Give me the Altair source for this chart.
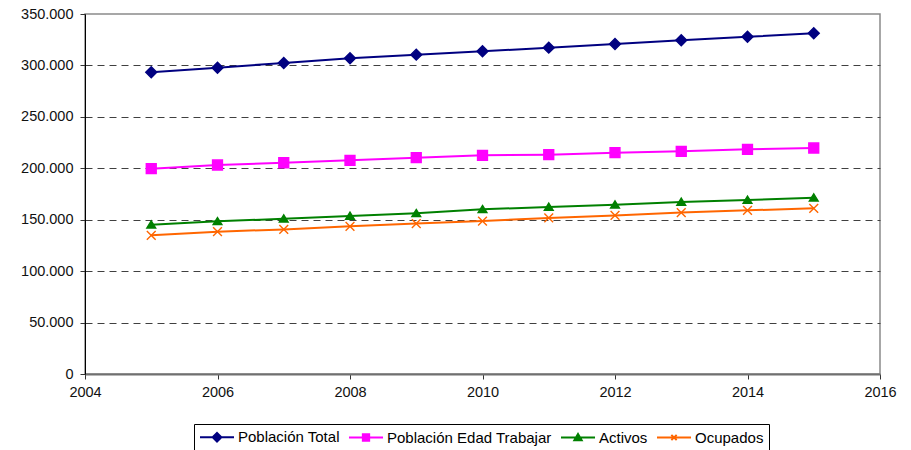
import altair as alt
import pandas as pd

years = [2005, 2006, 2007, 2008, 2009, 2010, 2011, 2012, 2013, 2014, 2015]
poblacion_total = [293300, 297800, 302400, 306900, 310500, 313700, 317300, 320800, 324400, 327900, 331200]
poblacion_edad_trabajar = [199600, 203200, 205400, 207700, 210300, 212600, 213200, 215200, 216500, 218400, 219700]
activos = [145200, 148400, 151000, 153600, 156200, 160100, 162400, 164600, 167200, 169200, 171400]
ocupados = [134800, 138400, 140600, 143600, 146200, 148700, 151700, 154200, 156900, 159100, 161100]

series = ["Población Total", "Población Edad Trabajar", "Activos", "Ocupados"]
colors = ["#000080", "#FF00FF", "#008000", "#FF6600"]
x_ticks = [2004, 2006, 2008, 2010, 2012, 2014, 2016]
y_ticks = [0, 50000, 100000, 150000, 200000, 250000, 300000, 350000]

rows = []
for name, vals in zip(series, [poblacion_total, poblacion_edad_trabajar, activos, ocupados]):
    for yr, v in zip(years, vals):
        rows.append({"anio": yr, "valor": v, "serie": name})
df = pd.DataFrame(rows)

# marker shapes (unit space) for the plot
point_shapes = [
    "M0,-1L1,0L0,1L-1,0Z",
    "M-0.9,-0.9H0.9V0.9H-0.9Z",
    "M0,-0.7L0.8,0.6L-0.8,0.6Z",
    "M-0.8,-0.8L0.8,0.8M-0.8,0.8L0.8,-0.8",
]
# legend symbols: line + marker
legend_shapes = [
    "M-1,0H3.86M1.43,-0.62L2.05,0L1.43,0.62L0.81,0Z",
    "M-1,0H3.86M0.98,-0.45H1.88V0.45H0.98Z",
    "M-1,0H3.86M1.43,-0.5L1.95,0.38L0.91,0.38Z",
    "M-1,0H3.86M1.05,-0.38L1.81,0.38M1.05,0.38L1.81,-0.38",
]

x_enc = alt.X(
    "anio:Q",
    scale=alt.Scale(domain=[2004, 2016], nice=False, zero=False),
    axis=alt.Axis(
        values=x_ticks, format="d", title=None, grid=False, labelFlush=False,
        domainColor="#707070", domainWidth=2, tickColor="#333", tickSize=5,
        labelPadding=6, labelFontSize=14.5, labelColor="#111",
        labelFont="Liberation Sans",
    ),
)
y_enc = alt.Y(
    "valor:Q",
    scale=alt.Scale(domain=[0, 350000], nice=False),
    axis=alt.Axis(
        values=y_ticks, title=None, grid=True,
        gridDash=[7, 5], gridColor="#404040", gridWidth=1,
        gridOpacity={"condition": {"test": "datum.value === 0 || datum.value === 350000", "value": 0}, "value": 1},
        domainColor="#000", domainWidth=1, tickColor="#333", tickSize=5,
        labelPadding=7, labelFontSize=14.5, labelColor="#111",
        labelFont="Liberation Sans",
        labelExpr="replace(format(datum.value, ','), ',', '.')",
    ),
)

lines = alt.Chart(df).mark_line(strokeWidth=2).encode(
    x=x_enc, y=y_enc,
    color=alt.Color("serie:N", scale=alt.Scale(domain=series, range=colors), legend=None),
    detail="serie:N",
)

points = alt.Chart(df).mark_point(filled=True, opacity=1, size=121, strokeWidth=1.4).encode(
    x=x_enc, y=y_enc,
    fill=alt.Fill("serie:N", scale=alt.Scale(domain=series, range=colors), legend=None),
    stroke=alt.Stroke("serie:N", scale=alt.Scale(domain=series, range=colors), legend=None),
    shape=alt.Shape("serie:N", scale=alt.Scale(domain=series, range=point_shapes), legend=None),
)

legend_layer = alt.Chart(df).transform_filter("false").mark_point(filled=True, opacity=1).encode(
    x=x_enc, y=y_enc,
    fill=alt.Fill("serie:N", scale=alt.Scale(domain=series, range=colors), title=None, sort=series),
    stroke=alt.Stroke("serie:N", scale=alt.Scale(domain=series, range=colors), title=None, sort=series),
    shape=alt.Shape("serie:N", scale=alt.Scale(domain=series, range=legend_shapes), title=None, sort=series),
)

chart = (
    alt.layer(lines, points, legend_layer)
    .resolve_scale(shape="independent", fill="independent", stroke="independent")
    .properties(
        width=795, height=360,
        autosize=alt.AutoSizeParams(type="none"),
        padding={"left": 85, "top": 14, "right": 30, "bottom": 76},
        background="white",
    )
    .configure_view(stroke="#8a8a8a", strokeWidth=1.5)
    .configure_legend(
        orient="none", legendX=109, legendY=410, direction="horizontal",
        strokeColor="#000", fillColor="white", padding=5, cornerRadius=0,
        labelFont="Liberation Sans", labelFontSize=15, labelColor="#000",
        labelLimit=400,
        symbolSize=196, labelOffset=23, columnPadding=5,
        symbolStrokeWidth=2, symbolOpacity=1, titlePadding=0,
    )
)

chart.save("out.html", embed_options={"renderer": "svg", "actions": False})
